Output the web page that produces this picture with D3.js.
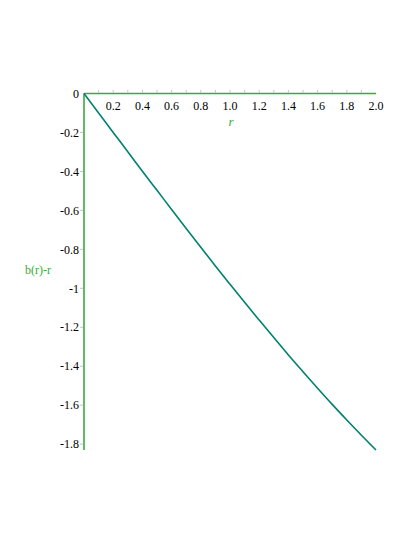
<!DOCTYPE html>
<html>
<head>
<meta charset="utf-8">
<script src="https://cdn.jsdelivr.net/npm/d3@7"></script>
<style>
html,body{margin:0;padding:0;background:#fff;}
svg{display:block;}
text{font-family:"Liberation Serif","Times New Roman",serif;}
</style>
</head>
<body>
<script>
const rValues = [0,0.1,0.2,0.3,0.4,0.5,0.6,0.7,0.8,0.9,1.0,1.1,1.2,1.3,1.4,1.5,1.6,1.7,1.8,1.9,2.0];
const bMinusR = [0,-0.100,-0.200,-0.299,-0.399,-0.497,-0.595,-0.693,-0.789,-0.885,-0.979,-1.072,-1.163,-1.253,-1.342,-1.428,-1.513,-1.596,-1.676,-1.754,-1.830];
const xTicks = [0.2,0.4,0.6,0.8,1.0,1.2,1.4,1.6,1.8,2.0];
const xMinorTicks = [0.1,0.2,0.3,0.4,0.5,0.6,0.7,0.8,0.9,1.0,1.1,1.2,1.3,1.4,1.5,1.6,1.7,1.8,1.9];
const yTicks = [0,-0.2,-0.4,-0.6,-0.8,-1,-1.2,-1.4,-1.6,-1.8];
const xTickLabels = ["0.2","0.4","0.6","0.8","1.0","1.2","1.4","1.6","1.8","2.0"];
const yTickLabels = ["0","-0.2","-0.4","-0.6","-0.8","-1","-1.2","-1.4","-1.6","-1.8"];

const W = 415, H = 537;
const svg = d3.select("body").append("svg").attr("width", W).attr("height", H);

const x = d3.scaleLinear().domain([0, 2]).range([84, 376]);
const y = d3.scaleLinear().domain([0, -1.83]).range([93.5, 450]);

const axisColor = "#3aaa3a";
const tickColor = "#c4c4c4";

// x minor/major ticks (upward from axis)
svg.append("g").selectAll("line").data(xMinorTicks).join("line")
  .attr("x1", d => x(d)).attr("x2", d => x(d))
  .attr("y1", y(0) - 1).attr("y2", y(0) - 3.5)
  .attr("stroke", tickColor).attr("stroke-width", 1);

// y ticks (leftward)
svg.append("g").selectAll("line").data(yTicks.slice(1)).join("line")
  .attr("x1", x(0) - 4).attr("x2", x(0) - 1)
  .attr("y1", d => y(d)).attr("y2", d => y(d))
  .attr("stroke", tickColor).attr("stroke-width", 1);

// axes lines
svg.append("line").attr("x1", x(0)).attr("x2", x(2))
  .attr("y1", y(0)).attr("y2", y(0))
  .attr("stroke", axisColor).attr("stroke-width", 1.6);
svg.append("line").attr("x1", x(0)).attr("x2", x(0))
  .attr("y1", y(0)).attr("y2", y(-1.83))
  .attr("stroke", axisColor).attr("stroke-width", 1.6);

// x tick labels
svg.append("g").selectAll("text").data(xTicks).join("text")
  .attr("x", d => x(d)).attr("y", y(0) + 16)
  .attr("text-anchor", "middle").attr("font-size", 12).attr("fill", "#000")
  .text((d, i) => xTickLabels[i]);

// y tick labels
svg.append("g").selectAll("text").data(yTicks).join("text")
  .attr("x", x(0) - 5).attr("y", d => y(d)).attr("dy", "0.35em")
  .attr("text-anchor", "end").attr("font-size", 12).attr("fill", "#000")
  .text((d, i) => yTickLabels[i]);

// axis titles
svg.append("text").attr("x", x(1) + 1).attr("y", 126)
  .attr("text-anchor", "middle").attr("font-size", 13).attr("font-style", "italic")
  .attr("fill", axisColor).text("r");
svg.append("text").attr("x", 38).attr("y", 270).attr("dy", "0.35em")
  .attr("text-anchor", "middle").attr("font-size", 12)
  .attr("fill", axisColor).text("b(r)-r");

// curve
const line = d3.line().x((d, i) => x(rValues[i])).y(d => y(d)).curve(d3.curveMonotoneX);
svg.append("path").datum(bMinusR).attr("d", line)
  .attr("fill", "none").attr("stroke", "#00806e").attr("stroke-width", 1.6);
</script>
</body>
</html>
